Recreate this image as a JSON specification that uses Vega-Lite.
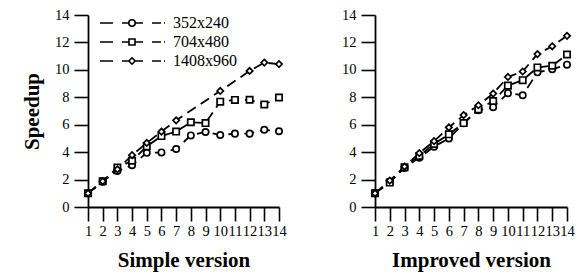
{
  "$schema": "https://vega.github.io/schema/vega-lite/v6.json",
  "background": "white",
  "padding": {"left": 21, "top": 7, "right": 2, "bottom": 2},
  "spacing": 54,
  "config": {
    "view": {"stroke": null},
    "font": "Liberation Serif",
    "axis": {
      "grid": false,
      "domainColor": "black",
      "domainWidth": 1.8,
      "tickColor": "black",
      "tickWidth": 1.6,
      "tickSize": 14,
      "labelFont": "Liberation Serif",
      "labelFontSize": 14.5,
      "labelColor": "black",
      "titleFont": "Liberation Serif",
      "titleFontSize": 21,
      "titleFontWeight": "bold",
      "titleColor": "black",
      "labelOverlap": false,
      "labelFlush": false
    }
  },
  "datasets": {
    "simple": [
      {"res": "352x240", "threads": 1, "speedup": 1.0},
      {"res": "352x240", "threads": 2, "speedup": 1.85},
      {"res": "352x240", "threads": 3, "speedup": 2.63},
      {"res": "352x240", "threads": 4, "speedup": 3.05},
      {"res": "352x240", "threads": 5, "speedup": 3.95},
      {"res": "352x240", "threads": 6, "speedup": 3.98},
      {"res": "352x240", "threads": 7, "speedup": 4.23},
      {"res": "352x240", "threads": 8, "speedup": 5.22},
      {"res": "352x240", "threads": 9, "speedup": 5.47},
      {"res": "352x240", "threads": 10, "speedup": 5.25},
      {"res": "352x240", "threads": 11, "speedup": 5.35},
      {"res": "352x240", "threads": 12, "speedup": 5.35},
      {"res": "352x240", "threads": 13, "speedup": 5.63},
      {"res": "352x240", "threads": 14, "speedup": 5.52},
      {"res": "704x480", "threads": 1, "speedup": 1.0},
      {"res": "704x480", "threads": 2, "speedup": 1.87},
      {"res": "704x480", "threads": 3, "speedup": 2.88},
      {"res": "704x480", "threads": 4, "speedup": 3.37},
      {"res": "704x480", "threads": 5, "speedup": 4.42},
      {"res": "704x480", "threads": 6, "speedup": 5.17},
      {"res": "704x480", "threads": 7, "speedup": 5.5},
      {"res": "704x480", "threads": 8, "speedup": 6.18},
      {"res": "704x480", "threads": 9, "speedup": 6.12},
      {"res": "704x480", "threads": 10, "speedup": 7.68},
      {"res": "704x480", "threads": 11, "speedup": 7.81},
      {"res": "704x480", "threads": 12, "speedup": 7.82},
      {"res": "704x480", "threads": 13, "speedup": 7.47},
      {"res": "704x480", "threads": 14, "speedup": 7.98},
      {"res": "1408x960", "threads": 1, "speedup": 1.0},
      {"res": "1408x960", "threads": 2, "speedup": 1.87},
      {"res": "1408x960", "threads": 3, "speedup": 2.75},
      {"res": "1408x960", "threads": 4, "speedup": 3.78},
      {"res": "1408x960", "threads": 5, "speedup": 4.67},
      {"res": "1408x960", "threads": 6, "speedup": 5.5},
      {"res": "1408x960", "threads": 7, "speedup": 6.32},
      {"res": "1408x960", "threads": 10, "speedup": 8.46},
      {"res": "1408x960", "threads": 12, "speedup": 9.92},
      {"res": "1408x960", "threads": 13, "speedup": 10.53},
      {"res": "1408x960", "threads": 14, "speedup": 10.42}
    ],
    "improved": [
      {"res": "352x240", "threads": 1, "speedup": 1.0},
      {"res": "352x240", "threads": 2, "speedup": 1.85},
      {"res": "352x240", "threads": 3, "speedup": 2.85},
      {"res": "352x240", "threads": 4, "speedup": 3.6},
      {"res": "352x240", "threads": 5, "speedup": 4.4},
      {"res": "352x240", "threads": 6, "speedup": 5.0},
      {"res": "352x240", "threads": 7, "speedup": 6.1},
      {"res": "352x240", "threads": 8, "speedup": 7.05},
      {"res": "352x240", "threads": 9, "speedup": 7.28},
      {"res": "352x240", "threads": 10, "speedup": 8.3},
      {"res": "352x240", "threads": 11, "speedup": 8.15},
      {"res": "352x240", "threads": 12, "speedup": 9.82},
      {"res": "352x240", "threads": 13, "speedup": 10.05},
      {"res": "352x240", "threads": 14, "speedup": 10.38},
      {"res": "704x480", "threads": 1, "speedup": 1.0},
      {"res": "704x480", "threads": 2, "speedup": 1.78},
      {"res": "704x480", "threads": 3, "speedup": 2.9},
      {"res": "704x480", "threads": 4, "speedup": 3.72},
      {"res": "704x480", "threads": 5, "speedup": 4.6},
      {"res": "704x480", "threads": 6, "speedup": 5.3},
      {"res": "704x480", "threads": 7, "speedup": 6.12},
      {"res": "704x480", "threads": 8, "speedup": 7.12},
      {"res": "704x480", "threads": 9, "speedup": 7.73},
      {"res": "704x480", "threads": 10, "speedup": 8.85},
      {"res": "704x480", "threads": 11, "speedup": 9.25},
      {"res": "704x480", "threads": 12, "speedup": 10.18},
      {"res": "704x480", "threads": 13, "speedup": 10.3},
      {"res": "704x480", "threads": 14, "speedup": 11.12},
      {"res": "1408x960", "threads": 1, "speedup": 1.0},
      {"res": "1408x960", "threads": 2, "speedup": 1.92},
      {"res": "1408x960", "threads": 3, "speedup": 2.95},
      {"res": "1408x960", "threads": 4, "speedup": 3.93},
      {"res": "1408x960", "threads": 5, "speedup": 4.8},
      {"res": "1408x960", "threads": 6, "speedup": 5.8},
      {"res": "1408x960", "threads": 7, "speedup": 6.7},
      {"res": "1408x960", "threads": 8, "speedup": 7.42},
      {"res": "1408x960", "threads": 9, "speedup": 8.27},
      {"res": "1408x960", "threads": 10, "speedup": 9.48},
      {"res": "1408x960", "threads": 11, "speedup": 9.88},
      {"res": "1408x960", "threads": 12, "speedup": 11.15},
      {"res": "1408x960", "threads": 13, "speedup": 11.72},
      {"res": "1408x960", "threads": 14, "speedup": 12.48}
    ]
  },
  "hconcat": [
    {
      "width": 191,
      "height": 192,
      "data": {"name": "simple"},
      "encoding": {
        "x": {"field": "threads", "type": "quantitative", "scale": {"domain": [1, 14], "nice": false, "zero": false},
              "axis": {"values": [1,2,3,4,5,6,7,8,9,10,11,12,13,14], "title": "Simple version", "tickSize": 14, "labelPadding": 3, "titlePadding": 12}},
        "y": {"field": "speedup", "type": "quantitative", "scale": {"domain": [0, 14], "nice": false},
              "axis": {"values": [0,2,4,6,8,10,12,14], "title": "Speedup", "tickSize": 14, "labelPadding": 5, "titlePadding": 12}}
      },
      "layer": [
        {
          "mark": {"type": "line", "color": "black", "strokeWidth": 1.8, "strokeDash": [10, 6]},
          "encoding": {"detail": {"field": "res"}}
        },
        {
          "mark": {"type": "point", "filled": false, "fill": "white", "fillOpacity": 1, "color": "black", "strokeWidth": 1.7, "opacity": 1, "size": 40},
          "encoding": {
            "shape": {"field": "res", "type": "nominal",
              "scale": {"domain": ["352x240", "704x480", "1408x960"], "range": ["circle", "square", "diamond"]},
              "legend": null}
          }
        },
        {
          "mark": {"type": "point", "filled": false, "color": "black", "strokeWidth": 1.5, "size": 0},
          "encoding": {
            "shape": {"field": "res", "type": "nominal",
              "scale": {"domain": ["352x240", "704x480", "1408x960"],
                "range": [
                  "M-32,0H-19M-10,0H-3.2A3.2,3.2,0,1,1,3.2,0A3.2,3.2,0,1,1,-3.2,0M3.2,0H11M20,0H29M32,0H33",
                  "M-32,0H-19M-10,0H-3M-3,-3H3V3H-3ZM3,0H11M20,0H29M32,0H33",
                  "M-32,0H-19M-10,0H-3.2M0,-3.2L3.2,0L0,3.2L-3.2,0ZM3.2,0H11M20,0H29M32,0H33"
                ]},
              "legend": {
                "title": null, "orient": "none", "legendX": 36, "legendY": 0, "padding": 0,
                "symbolSize": 4, "symbolOpacity": 1, "symbolStrokeColor": "black", "symbolStrokeWidth": 1.6,
                "labelOffset": 33, "labelFontSize": 16, "labelFont": "Liberation Serif", "labelColor": "black",
                "rowPadding": 3
              }
            }
          }
        }
      ],
      "resolve": {"scale": {"shape": "independent"}, "legend": {"shape": "independent"}}
    },
    {
      "width": 192,
      "height": 192,
      "data": {"name": "improved"},
      "encoding": {
        "x": {"field": "threads", "type": "quantitative", "scale": {"domain": [1, 14], "nice": false, "zero": false},
              "axis": {"values": [1,2,3,4,5,6,7,8,9,10,11,12,13,14], "title": "Improved version", "tickSize": 14, "labelPadding": 3, "titlePadding": 12}},
        "y": {"field": "speedup", "type": "quantitative", "scale": {"domain": [0, 14], "nice": false},
              "axis": {"values": [0,2,4,6,8,10,12,14], "title": null, "tickSize": 14, "labelPadding": 5}}
      },
      "layer": [
        {
          "mark": {"type": "line", "color": "black", "strokeWidth": 1.8, "strokeDash": [10, 6]},
          "encoding": {"detail": {"field": "res"}}
        },
        {
          "mark": {"type": "point", "filled": false, "fill": "white", "fillOpacity": 1, "color": "black", "strokeWidth": 1.7, "opacity": 1, "size": 40},
          "encoding": {
            "shape": {"field": "res", "type": "nominal",
              "scale": {"domain": ["352x240", "704x480", "1408x960"], "range": ["circle", "square", "diamond"]},
              "legend": null}
          }
        }
      ]
    }
  ],
  "resolve": {"scale": {"shape": "independent"}, "legend": {"shape": "independent"}}
}
